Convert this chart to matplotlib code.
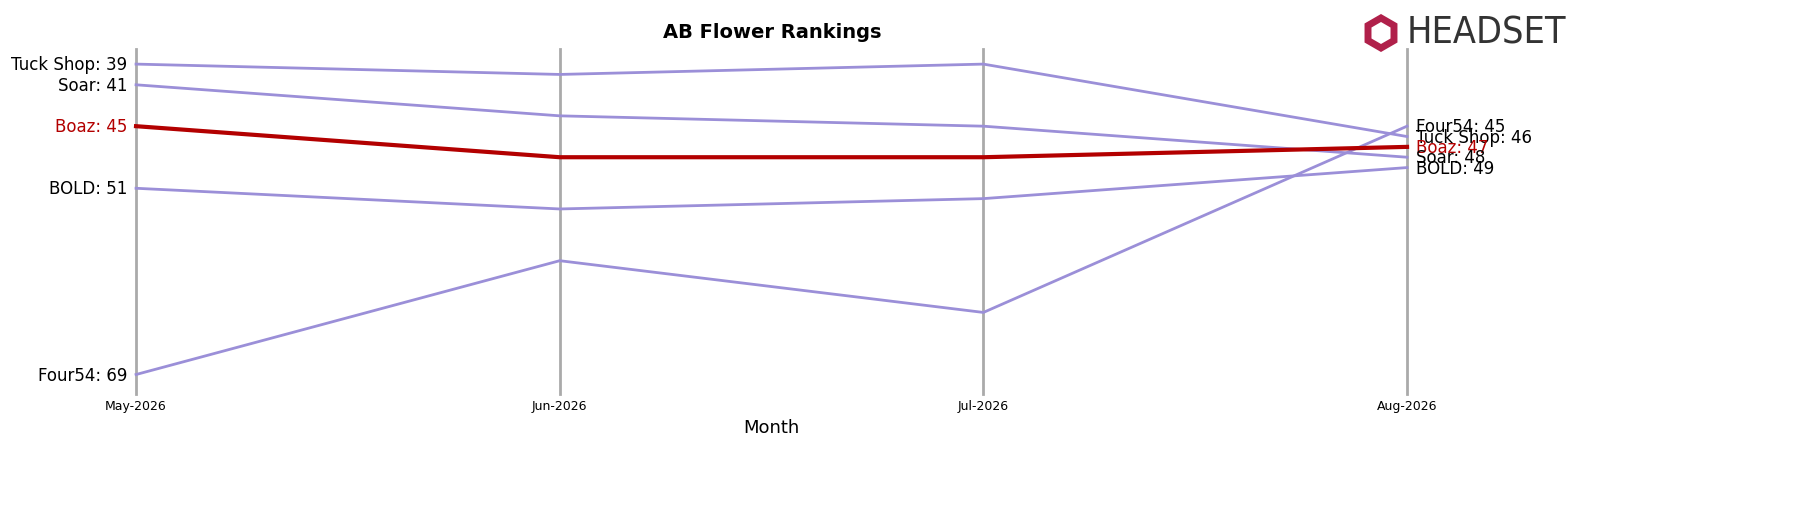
import matplotlib
matplotlib.use("Agg")
import matplotlib.pyplot as plt
from matplotlib.patches import RegularPolygon

months = ["May-2026", "Jun-2026", "Jul-2026", "Aug-2026"]
brands = ["Tuck Shop", "Soar", "Boaz", "BOLD", "Four54"]
ranks = {
    "Tuck Shop": [39, 40, 39, 46],
    "Soar": [41, 44, 45, 48],
    "Boaz": [45, 48, 48, 47],
    "BOLD": [51, 53, 52, 49],
    "Four54": [69, 58, 63, 45],
}
highlight = "Boaz"
purple = "#9b8fd8"
red = "#b30000"

fig = plt.figure(figsize=(17.97, 5.06), dpi=100)
ax = fig.add_axes([0.0757, 0.219, 0.7073, 0.682])
x = list(range(len(months)))
for xi in x:
    ax.axvline(xi, color="#aaaaaa", lw=2, zorder=0, clip_on=False)
for b in brands:
    c = red if b == highlight else purple
    lw = 3 if b == highlight else 2
    ax.plot(x, ranks[b], color=c, lw=lw, zorder=3 if b == highlight else 2, clip_on=False)
    ax.text(-0.02, ranks[b][0], f"{b}: {ranks[b][0]}", ha="right", va="center",
            fontsize=12, color=red if b == highlight else "black")
right_order = sorted(brands, key=lambda b: ranks[b][-1])
ys = []
for b in right_order:
    y = ranks[b][-1]
    if ys and y - ys[-1] < 0.95:
        y = ys[-1] + 0.95
    ys.append(y)
for b, y in zip(right_order, ys):
    c = red if b == highlight else "black"
    ax.text(3.02, y, f"{b}: {ranks[b][-1]}", ha="left", va="center", fontsize=12, color=c)

ax.set_xlim(0, 3)
ax.set_ylim(70.9, 37.55)
ax.set_xticks(x)
ax.set_xticklabels(months, fontsize=9)
ax.set_yticks([])
ax.tick_params(axis="x", length=0)
for s in ax.spines.values():
    s.set_visible(False)
ax.set_xlabel("Month", fontsize=13)
fig.text(0.43, 0.935, "AB Flower Rankings", ha="center", va="center",
         fontsize=14, fontweight="bold")
fig.text(0.7825, 0.933, "HEADSET", ha="left", va="center", fontsize=27,
         color="#333333", fontfamily="DejaVu Sans", fontstretch="condensed")
fig.patches.append(RegularPolygon((13.81, 4.72), 6, radius=0.15, orientation=0,
                                  transform=fig.dpi_scale_trans, fill=False,
                                  edgecolor="#b0204a", lw=5))
fig.savefig("out.png", dpi=100)
